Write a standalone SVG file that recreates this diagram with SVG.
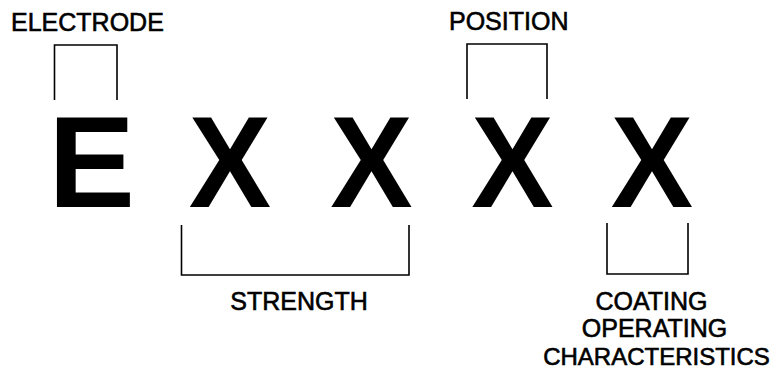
<svg xmlns="http://www.w3.org/2000/svg" width="778" height="377" viewBox="0 0 778 377">
<style>
.lbl{font-family:"Liberation Sans",Arial,sans-serif;font-size:25px;fill:#000;stroke:#000;stroke-width:0.6}
.big{font-family:"Liberation Sans",Arial,sans-serif;font-weight:bold;font-size:130px;fill:#000;text-anchor:middle}
.br{fill:none;stroke:#000;stroke-width:1.6}
</style>
<rect width="778" height="377" fill="#fff"/>
<g id="letters">
<text class="big" x="91.5" y="207">E</text>
<text class="big" transform="translate(230,207) scale(0.95,1)">X</text>
<text class="big" transform="translate(371.5,207) scale(0.95,1)">X</text>
<text class="big" transform="translate(512.5,207) scale(0.95,1)">X</text>
<text class="big" transform="translate(652,207) scale(0.95,1)">X</text>
</g>
<g id="connectors">
<path class="br" d="M54.5,100 V45 H117 V100"/>
<path class="br" d="M467,99 V44 H547 V99"/>
<path class="br" d="M181.5,225 V275 H409 V225"/>
<path class="br" d="M607,223 V274 H688 V223"/>
</g>
<g id="electrode"><text class="lbl" x="11" y="31">ELECTRODE</text></g>
<g id="position"><text class="lbl" x="449" y="30">POSITION</text></g>
<g id="strength"><text class="lbl" x="299" y="310" text-anchor="middle">STRENGTH</text></g>
<g id="coating">
<text class="lbl" x="651.5" y="310" text-anchor="middle">COATING</text>
<text class="lbl" x="654.5" y="337" text-anchor="middle">OPERATING</text>
<text class="lbl" x="656.5" y="365" text-anchor="middle" style="font-size:24px">CHARACTERISTICS</text>
</g>
</svg>
